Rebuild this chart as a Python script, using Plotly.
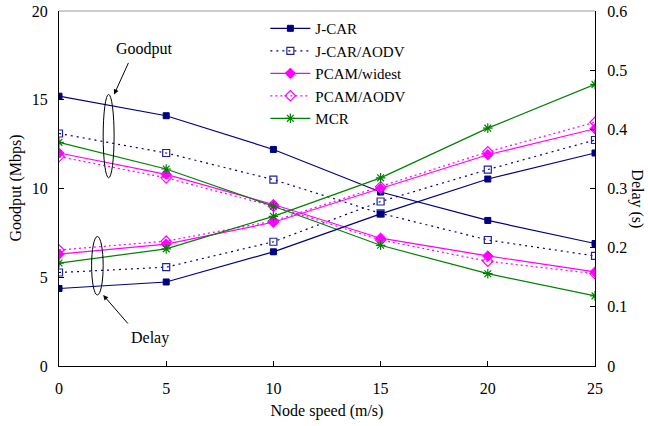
import plotly.graph_objects as go

speeds = [0, 5, 10, 15, 20, 25]
series_names = ["J-CAR", "J-CAR/AODV", "PCAM/widest", "PCAM/AODV", "MCR"]

goodput_jcar = [15.2, 14.1, 12.2, 9.8, 8.2, 6.9]
goodput_jcar_aodv = [13.1, 12.0, 10.5, 8.6, 7.1, 6.2]
goodput_pcam_widest = [12.0, 10.8, 9.1, 7.2, 6.2, 5.3]
goodput_pcam_aodv = [11.8, 10.6, 9.0, 7.1, 5.9, 5.2]
goodput_mcr = [12.6, 11.1, 9.0, 6.8, 5.2, 3.95]

delay_jcar = [0.131, 0.142, 0.193, 0.257, 0.316, 0.360]
delay_jcar_aodv = [0.158, 0.167, 0.210, 0.278, 0.332, 0.382]
delay_pcam_widest = [0.189, 0.206, 0.243, 0.300, 0.357, 0.401]
delay_pcam_aodv = [0.196, 0.211, 0.245, 0.303, 0.362, 0.412]
delay_mcr = [0.174, 0.198, 0.253, 0.318, 0.402, 0.476]

x_ticks = [0, 5, 10, 15, 20, 25]
y_ticks = [0, 5, 10, 15, 20]
y2_ticks = [0, 0.1, 0.2, 0.3, 0.4, 0.5, 0.6]

goodputs = [goodput_jcar, goodput_jcar_aodv, goodput_pcam_widest, goodput_pcam_aodv, goodput_mcr]
delays = [delay_jcar, delay_jcar_aodv, delay_pcam_widest, delay_pcam_aodv, delay_mcr]

styles = [
    dict(color="#000080", dash="solid", symbol="square", msize=6, mcolor="#000080", mline=1),
    dict(color="#000080", dash="2px,4px", symbol="square-open", msize=7, mcolor="#2020A0", mline=1.2),
    dict(color="#FF00FF", dash="solid", symbol="diamond", msize=8, mcolor="#FF00FF", mline=1),
    dict(color="#FF00FF", dash="2px,3px", symbol="diamond-open", msize=8, mcolor="#FF00FF", mline=1.2),
    dict(color="#008000", dash="solid", symbol="asterisk-open", msize=8, mcolor="#008000", mline=1.2),
]

fig = go.Figure()
for name, g, d, s in zip(series_names, goodputs, delays, styles):
    for vals, axis, show in ((g, "y", True), (d, "y2", False)):
        fig.add_trace(go.Scatter(
            x=speeds, y=vals, name=name, yaxis=axis, mode="lines+markers",
            legendgroup=name, showlegend=show,
            line=dict(color=s["color"], width=1.2, dash=s["dash"]),
            marker=dict(symbol=s["symbol"], size=s["msize"], color=s["mcolor"],
                        line=dict(color=s["mcolor"], width=s["mline"])),
        ))

font_family = "Liberation Serif, Times New Roman, serif"

fig.update_layout(
    width=648, height=426,
    margin=dict(l=59, r=53, t=11, b=60),
    paper_bgcolor="white", plot_bgcolor="white",
    font=dict(family=font_family, size=16, color="black"),
    showlegend=True,
    legend=dict(x=0.385, y=0.997, xanchor="left", yanchor="top",
                bgcolor="rgba(0,0,0,0)", font=dict(size=15, family=font_family),
                tracegroupgap=0, itemwidth=40),
    xaxis=dict(range=[0, 25], tickvals=x_ticks, showline=True, linecolor="black", linewidth=1.2,
               ticks="inside", ticklen=5, tickcolor="black", showgrid=False, zeroline=False,
               ticklabelstandoff=8, automargin=False,
               title=dict(text="Node speed (m/s)", font=dict(size=16), standoff=8)),
    yaxis=dict(range=[0, 20], tickvals=y_ticks, showline=True, linecolor="black", linewidth=1.2,
               ticks="inside", ticklen=5, tickcolor="black", showgrid=False, zeroline=False,
               ticklabelstandoff=7, ticklabeloverflow="allow", automargin=False),
    yaxis2=dict(range=[0, 0.6], tickvals=y2_ticks, overlaying="y", side="right",
                showline=True, linecolor="black", linewidth=1.2,
                ticks="inside", ticklen=5, tickcolor="black", showgrid=False, zeroline=False,
                ticklabelstandoff=8, ticklabeloverflow="allow", automargin=False),
    shapes=[
        dict(type="line", xref="paper", yref="paper", x0=0, x1=1, y0=1, y1=1,
             line=dict(color="#999999", width=1.2)),
        dict(type="circle", xref="x", yref="y", x0=2.06, x1=2.57, y0=10.6, y1=15.3,
             line=dict(color="black", width=1)),
        dict(type="circle", xref="x", yref="y", x0=1.52, x1=2.06, y0=4.0, y1=7.3,
             line=dict(color="black", width=1)),
    ],
    annotations=[
        dict(text="Goodput (Mbps)", xref="paper", yref="paper", x=-0.082, y=0.5,
             textangle=-90, showarrow=False, font=dict(size=16), xanchor="center", yanchor="middle"),
        dict(text="Delay (s)", xref="paper", yref="paper", x=1.078, y=0.47,
             textangle=90, showarrow=False, font=dict(size=16), xanchor="center", yanchor="middle"),
        dict(text="Goodput", xref="x", yref="y", x=4.0, y=17.85, showarrow=False,
             font=dict(size=16)),
        dict(text="", xref="x", yref="y", x=2.57, y=15.3, ax=15, ay=-33,
             showarrow=True, arrowhead=2, arrowsize=1, arrowwidth=1, arrowcolor="black"),
        dict(text="Delay", xref="x", yref="y", x=4.25, y=1.6, showarrow=False,
             font=dict(size=16)),
        dict(text="", xref="x", yref="y", x=2.06, y=4.0, ax=26, ay=30,
             showarrow=True, arrowhead=2, arrowsize=1, arrowwidth=1, arrowcolor="black"),
    ],
)

fig.write_html("out.html", config={"displayModeBar": False},
               post_script="document.body.style.margin='0';document.body.style.overflow='hidden';")
